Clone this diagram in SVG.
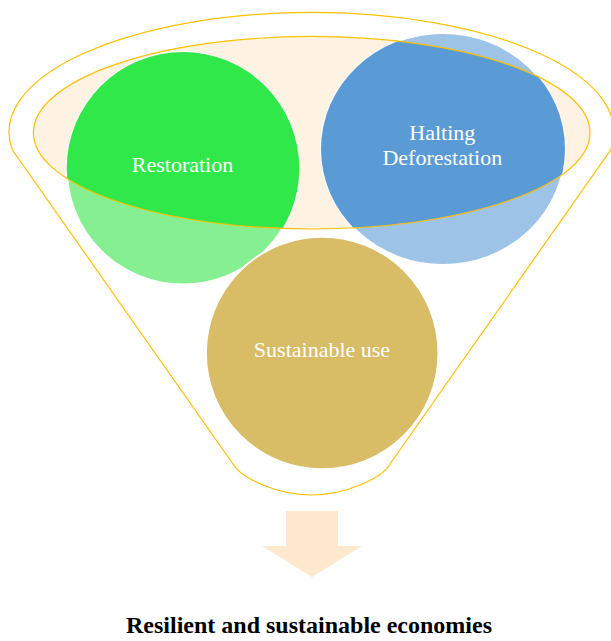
<svg xmlns="http://www.w3.org/2000/svg" width="611" height="641" viewBox="0 0 611 641">
  <style>
    .outline { fill: none; stroke: #FFC000; stroke-width: 1.2; }
    .circ { stroke: #FFFFFF; stroke-width: 2; }
    .lbl { font-family: "Liberation Serif", "Times New Roman", serif; font-size: 22px; fill: #FFFFFF; text-anchor: middle; }
    .title { font-family: "Liberation Serif", "Times New Roman", serif; font-size: 24px; font-weight: bold; fill: #000000; text-anchor: middle; }
  </style>
  <defs>
    <clipPath id="inner">
      <ellipse cx="311.7" cy="132.7" rx="278.3" ry="96.3"/>
    </clipPath>
  </defs>
  <rect width="611" height="641" fill="#FFFFFF"/>
  <g id="funnel">
    <path class="outline" d="M12.4,150 A302.5,119.7 0 1 1 610.6,150 L390,464 Q384,475 360,485 Q311.5,505 263,485 Q239,475 233,464 Z"/>
    <ellipse cx="311.7" cy="132.7" rx="278.3" ry="96.3" fill="#FEF2E3"/>
  </g>
  <g id="restoration">
    <circle class="circ" cx="183" cy="168.3" r="116.3" fill="#85EF91"/>
    <circle cx="183" cy="168.3" r="116.3" fill="#31E84A" clip-path="url(#inner)"/>
  </g>
  <g id="halting">
    <ellipse class="circ" cx="443" cy="149" rx="122" ry="116" fill="#9DC3E6"/>
    <ellipse cx="443" cy="149" rx="122" ry="116" fill="#5B9BD5" clip-path="url(#inner)"/>
  </g>
  <ellipse id="funnel-rim" class="outline" cx="311.7" cy="132.7" rx="278.3" ry="96.3"/>
  <g id="sustainable">
    <circle class="circ" cx="322.2" cy="353" r="116.3" fill="#D8BC66"/>
  </g>
  <g id="labels">
    <text class="lbl" x="182.5" y="171.7">Restoration</text>
    <text class="lbl" x="442.3" y="140">Halting</text>
    <text class="lbl" x="442.3" y="164.5">Deforestation</text>
    <text class="lbl" x="322" y="357.3">Sustainable use</text>
  </g>
  <g id="connectors">
    <path id="arrow" d="M286,511 H338 V546 H362 L312,577 L262,546 H286 Z" fill="#FEE8CE"/>
  </g>
  <g id="result">
    <text class="title" x="309" y="633">Resilient and sustainable economies</text>
  </g>
</svg>
